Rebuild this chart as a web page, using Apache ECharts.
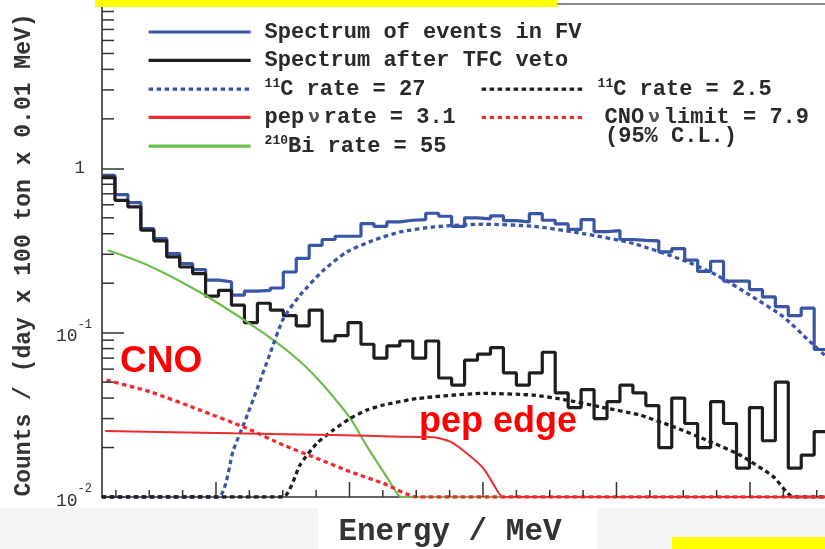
<!DOCTYPE html>
<html>
<head>
<meta charset="utf-8">
<script src="https://cdn.jsdelivr.net/npm/echarts@6/dist/echarts.min.js"></script>
<style>
  html, body { margin: 0; padding: 0; background: #fff; }
  #main { width: 825px; height: 549px; }
</style>
</head>
<body>
<div id="main"></div>
<script>
// axis range (MeV) and histogram binning
const energyMin = 0.6292;
const energyMax = 1.7124;
const binStart = 0.6292;
const binWidth = 0.0194;
const countsMin = 0.01;
const countsMax = 10;

// histograms, one value per bin
const spectrumFV = [0.906, 0.692, 0.619, 0.430, 0.374, 0.303, 0.263, 0.242, 0.209, 0.204,
  0.169, 0.179, 0.181, 0.187, 0.234, 0.283, 0.340, 0.369, 0.386, 0.386,
  0.461, 0.444, 0.472, 0.483, 0.488, 0.533, 0.511, 0.444, 0.500, 0.493,
  0.514, 0.480, 0.472, 0.530, 0.483, 0.459, 0.425, 0.488, 0.412, 0.418,
  0.369, 0.364, 0.362, 0.310, 0.325, 0.276, 0.236, 0.272, 0.206, 0.206,
  0.183, 0.165, 0.144, 0.127, 0.141, 0.079];
const spectrumTFC = [0.878, 0.639, 0.582, 0.420, 0.362, 0.289, 0.251, 0.229, 0.167, 0.181,
  0.147, 0.115, 0.151, 0.137, 0.127, 0.110, 0.137, 0.089, 0.096, 0.115,
  0.085, 0.070, 0.083, 0.089, 0.070, 0.089, 0.053, 0.048, 0.068, 0.074,
  0.081, 0.057, 0.048, 0.057, 0.076, 0.043, 0.035, 0.045, 0.030, 0.038,
  0.048, 0.043, 0.036, 0.020, 0.040, 0.028, 0.020, 0.038, 0.028, 0.015,
  0.035, 0.022, 0.050, 0.015, 0.018, 0.025];

// fitted components
const c11Energy = [0.629, 0.803, 0.826, 0.843, 0.861, 0.881, 0.901, 0.926, 0.961, 0.996, 1.036,
  1.076, 1.126, 1.200, 1.275, 1.350, 1.425, 1.500, 1.550, 1.600, 1.650, 1.690, 1.712];
const c11Rate27 = [0.01, 0.01, 0.0193, 0.0287, 0.0447, 0.0747, 0.122, 0.169, 0.240, 0.310, 0.365,
  0.410, 0.440, 0.457, 0.444, 0.401, 0.349, 0.276, 0.224, 0.169, 0.125, 0.088, 0.073];

const c11VetoEnergy = [0.629, 0.900, 0.926, 0.951, 0.976, 1.001, 1.026, 1.051, 1.103, 1.200,
  1.275, 1.325, 1.375, 1.435, 1.485, 1.535, 1.585, 1.635, 1.665, 1.712];
const c11Rate2p5 = [0.01, 0.01, 0.0157, 0.0212, 0.0256, 0.0301, 0.0338, 0.0363, 0.0398, 0.0427,
  0.0417, 0.0389, 0.0354, 0.0315, 0.0268, 0.0222, 0.0180, 0.0133, 0.01, 0.01];

const biEnergy = [0.638, 0.701, 0.776, 0.851, 0.896, 0.926, 0.950, 0.975, 1.001, 1.026, 1.056, 1.073, 1.079, 1.712];
const biRate = [0.317, 0.254, 0.176, 0.113, 0.0840, 0.0668, 0.0535, 0.0410, 0.0302, 0.0204, 0.0132, 0.0103, 0.01, 0.01];

const pepEnergy = [0.634, 0.826, 0.976, 1.076, 1.126, 1.151, 1.176, 1.201, 1.215, 1.230, 1.712];
const pepRate = [0.0252, 0.0244, 0.0238, 0.0233, 0.0231, 0.0217, 0.0184, 0.0149, 0.0121, 0.01, 0.01];

const cnoEnergy = [0.636, 0.701, 0.776, 0.846, 0.901, 0.951, 1.001, 1.051, 1.101, 1.712];
const cnoRate = [0.0514, 0.0437, 0.0338, 0.0262, 0.0207, 0.0172, 0.01425, 0.0121, 0.01, 0.01];

// ticks
const xMajorTicks = [0.8, 1.0, 1.2, 1.4, 1.6];
const xMinorTicks = [0.65, 0.7, 0.75, 0.85, 0.9, 0.95, 1.05, 1.1, 1.15, 1.25, 1.3, 1.35,
  1.45, 1.5, 1.55, 1.65, 1.7];
const yMinorTicks = [0.02, 0.03, 0.04, 0.05, 0.06, 0.07, 0.08, 0.09,
  0.2, 0.3, 0.4, 0.5, 0.6, 0.7, 0.8, 0.9, 2, 3, 4, 5, 6, 7, 8, 9];

// legend texts
const legendLeft = ['fv', 'tfc', 'c11a', 'pep', 'bi'];
const legendRight = ['c11b', 'cno'];
const legendText = {
  fv: 'Spectrum of events in FV',
  tfc: 'Spectrum after TFC veto',
  c11a: '{sup|11}C rate = 27',
  pep: 'pep{nu|ν}rate = 3.1',
  bi: '{sup|210}Bi rate = 55',
  c11b: '{sup|11}C rate = 2.5',
  cno: 'CNO{nu|ν}limit = 7.9'
};

const BLUE = '#3955a5';
const BLACK = '#1e1e1e';
const RED = '#ee2b2e';
const GREEN = '#6abf4b';
const MONO = 'Liberation Mono';

function histData(values) {
  const pts = values.map((v, i) => [binStart + i * binWidth, v]);
  pts.push([binStart + values.length * binWidth, values[values.length - 1]]);
  return pts;
}
function curveData(xs, ys) {
  return xs.map((x, i) => [x, ys[i]]);
}
function tickSeries(data, dx, dy) {
  return {
    type: 'custom', silent: true, z: 4,
    data: data,
    renderItem: (params, api) => {
      const p = api.coord([api.value(0), api.value(1)]);
      return {
        type: 'line',
        shape: { x1: p[0], y1: p[1], x2: p[0] + dx, y2: p[1] + dy },
        style: { stroke: '#333', lineWidth: 1.5 }
      };
    }
  };
}

const legendRich = {
  sup: { fontFamily: MONO, fontWeight: 'bold', fontSize: 13, color: '#2a2a2a', padding: [0, 0, 10, 0] },
  nu: { fontFamily: 'DejaVu Sans', fontSize: 17, color: '#555', padding: [0, 4, 0, 4] }
};
const legendTextStyle = { fontFamily: MONO, fontWeight: 'bold', fontSize: 22, color: '#2a2a2a', lineHeight: 22, padding: [0, 0, 0, 9], rich: legendRich };
const legendBase = {
  orient: 'vertical', itemWidth: 102, itemHeight: 14, itemGap: 6.3, selectedMode: false,
  padding: 0,
  itemStyle: { opacity: 0 },
  lineStyle: { width: 3.2 },
  textStyle: legendTextStyle,
  formatter: name => legendText[name]
};

const chart = echarts.init(document.getElementById('main'));
const option = {
  backgroundColor: '#fff',
  animation: false,
  grid: { left: 102, right: 0, top: 4, bottom: 52 },
  legend: [
    Object.assign({}, legendBase, { left: 147, top: 21, data: legendLeft }),
    Object.assign({}, legendBase, {
      left: 480, top: 77.7,
      data: [
        { name: 'c11b' },
        { name: 'cno', textStyle: Object.assign({}, legendTextStyle, { padding: [0, 0, 0, 16] }) }
      ]
    })
  ],
  xAxis: {
    type: 'value', min: energyMin, max: energyMax,
    axisLine: { show: true, lineStyle: { color: '#333', width: 1.6 } },
    axisTick: { show: false }, axisLabel: { show: false }, splitLine: { show: false }
  },
  yAxis: {
    type: 'log', logBase: 10, min: countsMin, max: countsMax,
    axisLine: { show: true, lineStyle: { color: '#333', width: 1.6 } },
    axisTick: { show: true, inside: true, length: 22, lineStyle: { color: '#333', width: 1.5 } },
    splitLine: { show: false },
    axisLabel: {
      margin: 10,
      formatter: v => {
        const e = Math.round(Math.log10(v));
        if (e === 0) return '{one|1}';
        if (e < 0) return '{base|10}{sup|' + e + '}';
        return '';
      },
      rich: {
        one: { fontFamily: MONO, fontSize: 18, color: '#333', padding: [0, 7, 0, 0] },
        base: { fontFamily: MONO, fontSize: 18, color: '#333', padding: [8, 0, 0, 0] },
        sup: { fontFamily: MONO, fontSize: 12, color: '#333', padding: [0, 0, 16, 0] }
      }
    }
  },
  series: [
    { name: 'fv', type: 'line', step: 'end', symbol: 'none', data: histData(spectrumFV),
      lineStyle: { color: BLUE, width: 3.2 }, itemStyle: { color: BLUE }, z: 2 },
    { name: 'tfc', type: 'line', step: 'end', symbol: 'none', data: histData(spectrumTFC),
      lineStyle: { color: BLACK, width: 3.2 }, itemStyle: { color: BLACK }, z: 3 },
    { name: 'bi', type: 'line', symbol: 'none', smooth: 0.3, data: curveData(biEnergy, biRate),
      lineStyle: { color: GREEN, width: 2.2 }, itemStyle: { color: GREEN }, z: 3 },
    { name: 'c11a', type: 'line', symbol: 'none', smooth: 0.2, data: curveData(c11Energy, c11Rate27),
      lineStyle: { color: BLUE, width: 3.3, type: [4.5, 3.5] }, itemStyle: { color: BLUE }, z: 3 },
    { name: 'c11b', type: 'line', symbol: 'none', smooth: 0.2, data: curveData(c11VetoEnergy, c11Rate2p5),
      lineStyle: { color: BLACK, width: 3.3, type: [4.5, 3.5] }, itemStyle: { color: BLACK }, z: 3 },
    { name: 'pep', type: 'line', symbol: 'none', smooth: 0.2, data: curveData(pepEnergy, pepRate),
      lineStyle: { color: RED, width: 2 }, itemStyle: { color: RED }, z: 3 },
    { name: 'cno', type: 'line', symbol: 'none', smooth: 0.2, data: curveData(cnoEnergy, cnoRate),
      lineStyle: { color: RED, width: 3.3, type: [4.5, 3.5] }, itemStyle: { color: RED }, z: 3 },
    tickSeries(xMajorTicks.map(v => [v, countsMin]), 0, -15),
    tickSeries(xMinorTicks.map(v => [v, countsMin]), 0, -7),
    tickSeries(yMinorTicks.map(v => [energyMin, v]), 12, 0)
  ],
  graphic: [
    { type: 'rect', z: -1, shape: { x: 0, y: 508, width: 318, height: 41 }, style: { fill: '#f4f4f4' } },
    { type: 'rect', z: -1, shape: { x: 597, y: 508, width: 228, height: 41 }, style: { fill: '#f4f4f4' } },
    { type: 'rect', z: 100, shape: { x: 672, y: 537, width: 153, height: 12 }, style: { fill: '#ffff00' } },
    { type: 'rect', z: 100, shape: { x: 95, y: 0, width: 462, height: 7 }, style: { fill: '#ffff00' } },
    { type: 'rect', z: 100, shape: { x: 557, y: 3, width: 268, height: 2 }, style: { fill: '#8a8a8a' } },
    { type: 'text', x: 605, y: 136, style: { text: '(95% C.L.)', fontFamily: MONO, fontWeight: 'bold', fontSize: 22, fill: '#2a2a2a', align: 'left', verticalAlign: 'middle' } },
    { type: 'text', x: 120, y: 362, style: { text: 'CNO', fontFamily: 'Liberation Sans', fontWeight: 'bold', fontSize: 37, fill: '#ff0000', align: 'left', verticalAlign: 'middle' } },
    { type: 'text', x: 419, y: 422, style: { text: 'pep edge', fontFamily: 'Liberation Sans', fontWeight: 'bold', fontSize: 36, fill: '#ff0000', align: 'left', verticalAlign: 'middle' } },
    { type: 'text', x: 24, y: 255, rotation: Math.PI / 2, style: { text: 'Counts / (day x 100 ton x 0.01 MeV)', fontFamily: MONO, fontWeight: 'bold', fontSize: 23, fill: '#333', align: 'center', verticalAlign: 'middle' } },
    { type: 'text', x: 450, y: 532, style: { text: 'Energy / MeV', fontFamily: MONO, fontWeight: 'bold', fontSize: 31, fill: '#333', align: 'center', verticalAlign: 'middle' } }
  ]
};
chart.setOption(option);
</script>
</body>
</html>
